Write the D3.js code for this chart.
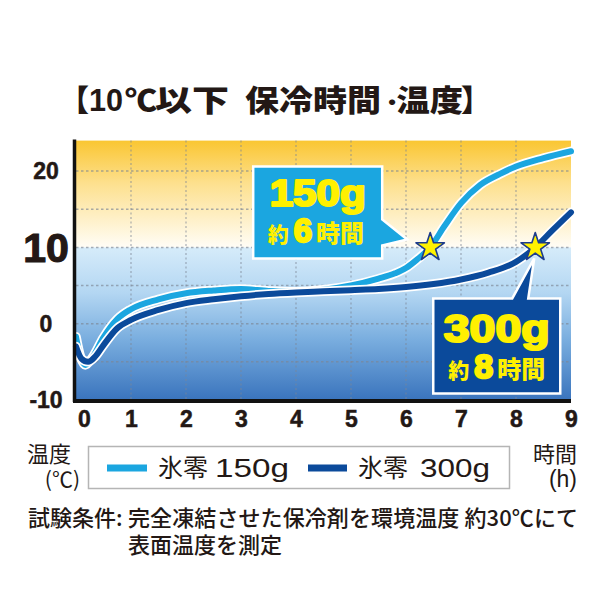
<!DOCTYPE html>
<html><head><meta charset="utf-8">
<script src="https://cdn.jsdelivr.net/npm/d3@7/dist/d3.min.js"></script>
<style>html,body{margin:0;padding:0;background:#fff;}svg{display:block;}</style>
</head><body>
<svg id="c" width="600" height="600"></svg>
<script>
// ---- data ----
const hours = [0,1,2,3,4,5,6,7,8,9];
const yTicks = [-10,0,10,20];
const yGrid = [-5,0,5,10,15,20];
const t150 = [0,0.08,0.17,0.3,0.5,0.75,1.0,1.5,2.0,2.5,3.0,3.5,4.0,4.5,5.0,5.5,5.8,6.0,6.2,6.44,6.7,7.0,7.35,7.7,8.0,8.5,9.0];
const v150 = [-1.7,-4.3,-5.4,-4.4,-1.8,0.6,1.9,3.2,4.0,4.35,4.55,4.3,4.2,4.45,5.0,5.9,6.6,7.3,8.4,10,12.8,15.8,18.2,19.6,20.6,21.7,22.6];
const t300 = [0,0.1,0.22,0.35,0.5,0.75,1.0,1.5,2.0,2.5,3.0,3.5,4.0,4.5,5.0,5.5,6.0,6.5,7.0,7.5,8.0,8.35,8.67,9.0];
const v300 = [-3.0,-4.6,-5.0,-4.3,-2.8,-0.6,0.5,1.8,2.7,3.2,3.6,3.9,4.1,4.25,4.4,4.55,4.8,5.2,5.8,6.7,8.1,10,12.3,14.6];
const seriesNames = ["氷零","氷零"];
const seriesWeights = ["150g","300g"];
const crossTimes = [6.44, 8.35];   // time when each reaches 10℃
const crossTemp = 10;
const calloutHours = ["6","8"];

// ---- setup ----
const svg = d3.select("#c");
const x = d3.scaleLinear().domain([0,9]).range([76,571]);
const y = d3.scaleLinear().domain([-10,24]).range([400,140.6]);
const colors = ["#1ba6e0","#0b4a9b"];
const txt = "#231815";
const cjk = "'Noto Sans CJK JP','Noto Sans',sans-serif";
const lat = "'Liberation Sans',Arial,sans-serif";

const defs = svg.append("defs");
const gTop = defs.append("linearGradient").attr("id","gTop").attr("x1",0).attr("y1",0).attr("x2",0).attr("y2",1);
gTop.append("stop").attr("offset","0%").attr("stop-color","#fac632");
gTop.append("stop").attr("offset","40%").attr("stop-color","#fde08e");
gTop.append("stop").attr("offset","100%").attr("stop-color","#fffdf6");
const gBot = defs.append("linearGradient").attr("id","gBot").attr("x1",0).attr("y1",0).attr("x2",0).attr("y2",1);
gBot.append("stop").attr("offset","0%").attr("stop-color","#d6ecfa");
gBot.append("stop").attr("offset","30%").attr("stop-color","#b3d6f2");
gBot.append("stop").attr("offset","60%").attr("stop-color","#7aaedf");
gBot.append("stop").attr("offset","100%").attr("stop-color","#3a74bd");

// backgrounds
svg.append("rect").attr("x",x(0)).attr("y",y(24)).attr("width",x(9)-x(0)).attr("height",y(10)-y(24)).attr("fill","url(#gTop)");
svg.append("rect").attr("x",x(0)).attr("y",y(10)).attr("width",x(9)-x(0)).attr("height",y(-10)-y(10)).attr("fill","url(#gBot)");

// grid
svg.append("g").selectAll("line").data(hours.filter(h=>h>0&&h<9)).join("line")
  .attr("x1",d=>x(d)).attr("x2",d=>x(d)).attr("y1",y(24)).attr("y2",y(-10))
  .attr("stroke","#7d8594").attr("stroke-opacity",0.6).attr("stroke-width",1.3).attr("stroke-dasharray","2,2.5");
svg.append("g").selectAll("line").data(yGrid).join("line")
  .attr("x1",x(0)).attr("x2",x(9)).attr("y1",d=>y(d)).attr("y2",d=>y(d))
  .attr("stroke","#7d8594").attr("stroke-opacity",0.65).attr("stroke-width",1.5).attr("stroke-dasharray","2.5,2.5");

// lines
const line = d3.line().x(d=>x(d[0])).y(d=>y(d[1])).curve(d3.curveMonotoneX);
const s150 = t150.map((t,i)=>[t,v150[i]]);
const s300 = t300.map((t,i)=>[t,v300[i]]);
[[s150,colors[0]],[s300,colors[1]]].forEach(([s,c])=>{
  svg.append("path").attr("d",line(s)).attr("fill","none").attr("stroke","#fff").attr("stroke-width",9.5).attr("stroke-linecap","round");
  svg.append("path").attr("d",line(s)).attr("fill","none").attr("stroke",c).attr("stroke-width",6).attr("stroke-linecap","round");
});

// axes
svg.append("line").attr("x1",x(0)-1.5).attr("x2",x(0)-1.5).attr("y1",y(24)-1).attr("y2",y(-10)+2).attr("stroke","#111").attr("stroke-width",3.5);
svg.append("line").attr("x1",x(0)-3).attr("x2",x(9)).attr("y1",y(-10)+1).attr("y2",y(-10)+1).attr("stroke","#111").attr("stroke-width",4);

// x tick labels
const xa = svg.append("g").attr("transform",`translate(0,${y(-10)+4})`)
  .call(d3.axisBottom(x).tickValues(hours).tickSize(0).tickPadding(8).tickFormat(d3.format("d")));
xa.select(".domain").remove();
xa.selectAll("text").attr("font-family",lat).attr("font-weight","bold")
  .attr("font-size",23).attr("fill",txt).attr("dx",d=>d===0?8:0).attr("dy","0.66em")
  .attr("stroke",txt).attr("stroke-width",0.5);

// y tick labels
svg.append("g").selectAll("text").data(yTicks).join("text")
  .attr("x",46).attr("y",d=>y(d)).attr("text-anchor","middle").attr("dy","0.36em")
  .attr("font-family",lat).attr("font-weight","bold")
  .attr("font-size",d=>d===10?41:23).attr("fill",txt).attr("stroke",txt).attr("stroke-width",d=>d===10?1.2:0.5).text(d=>d);

// stars
const star = d3.symbol().type(d3.symbolStar).size(250);
svg.append("g").selectAll("path").data(crossTimes).join("path")
  .attr("transform",d=>`translate(${x(d)},${y(crossTemp)})`)
  .attr("d",star).attr("fill","#fff200").attr("stroke","#1d3c8c").attr("stroke-width",1.6).attr("stroke-linejoin","round");

// callouts
function callout(i){
  const sx = x(crossTimes[i]), sy = y(crossTemp);
  let p, cx, b1, b2, f1, f2, w1, w2;
  if(i===0){
    const L=sx-177,R=sx-48,T=sy-81,B=sy+11;
    p=`M${L},${T}H${R}V${sy-28}L${sx-23},${sy-8}L${R},${sy-2}V${B}H${L}Z`;
    cx=(L+R)/2; b1=sy-41; b2=sy-5; f1=36; f2=33; w1=96; w2=100;
  } else {
    const L=sx-102,R=sx+25,T=sy+51,B=sy+146;
    p=`M${L},${T}H${sx-23}L${sx-1},${sy+11}L${sx-7},${T}H${R}V${B}H${L}Z`;
    cx=(L+R)/2; b1=sy+95; b2=sy+131; f1=39; f2=34; w1=106; w2=97;
  }
  svg.append("path").attr("d",p).attr("fill",colors[i]).attr("stroke","#fff").attr("stroke-width",2.5).attr("stroke-linejoin","miter");
  svg.append("text").attr("x",cx-w1/2).attr("y",b1)
    .attr("font-family",lat).attr("font-weight","900").attr("font-size",f1)
    .attr("textLength",w1).attr("lengthAdjust","spacingAndGlyphs")
    .attr("fill","#fff000").attr("stroke","#fff000").attr("stroke-width",2.2).attr("stroke-linejoin","round").text(i===0?"150g":"300g");
  const t2 = svg.append("text").attr("x",cx-w2/2).attr("y",b2)
    .attr("font-family",cjk).attr("font-weight","900").attr("fill","#fff000");
  t2.append("tspan").attr("font-size",21).text("約");
  t2.append("tspan").attr("font-size",f2).attr("font-family",lat).attr("font-weight","bold")
    .attr("stroke","#fff000").attr("stroke-width",2.4).attr("stroke-linejoin","round").attr("dx",5).text(calloutHours[i]);
  t2.append("tspan").attr("font-size",24).attr("dx",4).text("時間");
}
callout(0); callout(1);

// title (pieces placed to follow the reference's wide, tight lettering)
const tg = svg.append("g").attr("font-family",cjk).attr("font-weight","900").attr("font-size",30).attr("fill",txt);
const ty = 111;
tg.append("text").attr("x",89).attr("y",ty).attr("text-anchor","end").text("【");
tg.append("text").attr("x",89).attr("y",ty).attr("font-family",lat).attr("font-weight","bold").attr("font-size",31).attr("textLength",34).attr("lengthAdjust","spacingAndGlyphs").text("10");
tg.append("text").attr("x",125).attr("y",ty).attr("textLength",32).attr("lengthAdjust","spacingAndGlyphs").text("℃");
tg.append("text").attr("x",155).attr("y",ty).attr("textLength",74).attr("lengthAdjust","spacingAndGlyphs").text("以下");
tg.append("text").attr("x",245).attr("y",ty).attr("textLength",136).attr("lengthAdjust","spacingAndGlyphs").text("保冷時間");
const tm = tg.append("text").attr("x",381).attr("y",ty).attr("textLength",82).attr("lengthAdjust","spacingAndGlyphs");
tm.append("tspan").attr("font-size",20).attr("dy",-1).text("・");
tm.append("tspan").attr("dx",-6).attr("dy",1).text("温度");
tg.append("text").attr("x",461).attr("y",ty).text("】");

// axis titles
const axT = svg.append("g").attr("font-family",cjk).attr("font-size",22).attr("fill",txt);
axT.append("text").attr("x",27).attr("y",462).text("温度");
axT.append("text").attr("x",80).attr("y",487).attr("text-anchor","end").attr("font-size",21).text("(℃)");
axT.append("text").attr("x",577).attr("y",462).attr("text-anchor","end").text("時間");
axT.append("text").attr("x",577).attr("y",487).attr("text-anchor","end").attr("font-family",lat).attr("font-size",23).text("(h)");

// legend
svg.append("rect").attr("x",88.5).attr("y",446.5).attr("width",421).attr("height",42).attr("fill","#fff").attr("stroke","#b5b5b5").attr("stroke-width",1.5);
const lg = [[107,147,158,215,74],[308,347,358,420,70]];
lg.forEach((p,i)=>{
  svg.append("line").attr("x1",p[0]).attr("x2",p[1]).attr("y1",468).attr("y2",468).attr("stroke",colors[i]).attr("stroke-width",7);
  svg.append("text").attr("x",p[2]).attr("y",477).attr("font-family",cjk).attr("font-size",25).attr("fill",txt).text(seriesNames[i]);
  svg.append("text").attr("x",p[3]).attr("y",477).attr("font-family",lat).attr("font-size",26).attr("fill",txt)
    .attr("textLength",p[4]).attr("lengthAdjust","spacingAndGlyphs").text(seriesWeights[i]);
});

// note
const nt = svg.append("g").attr("font-family",cjk).attr("font-size",22).attr("fill",txt).attr("font-weight","500");
nt.append("text").attr("x",28).attr("y",526).text("試験条件:");
nt.append("text").attr("x",128).attr("y",526).attr("textLength",450).attr("lengthAdjust","spacing").text("完全凍結させた保冷剤を環境温度 約30℃にて");
nt.append("text").attr("x",128).attr("y",553).text("表面温度を測定");
</script>
</body></html>
